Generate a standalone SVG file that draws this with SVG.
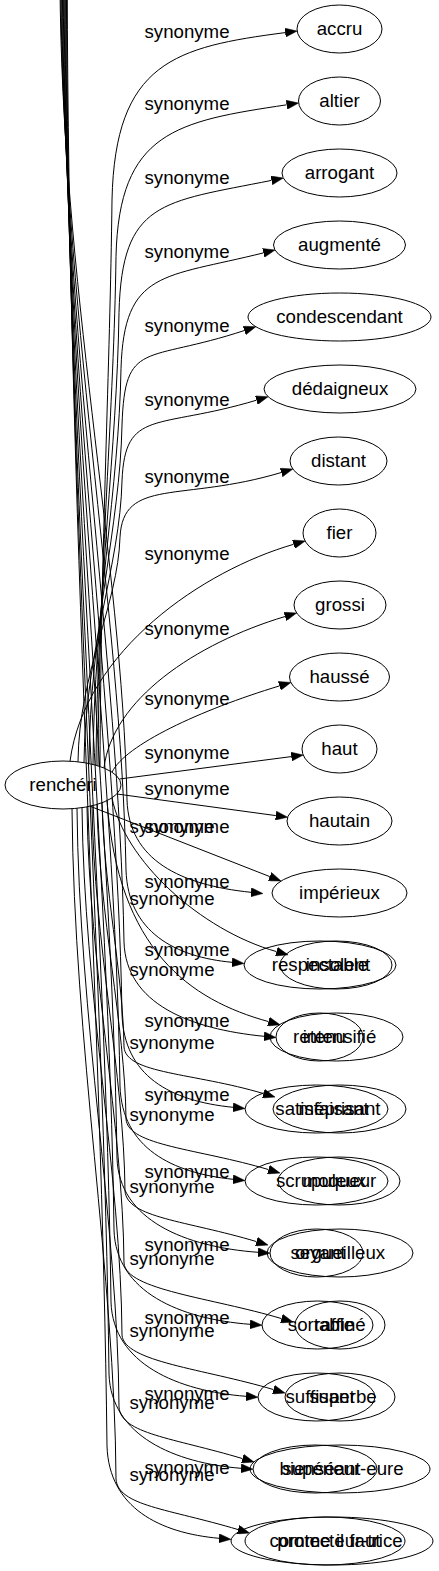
<svg xmlns="http://www.w3.org/2000/svg" width="439" height="1571" viewBox="0 0 439 1571">
<defs>
<style>
.n ellipse{fill:none;stroke:#000;stroke-width:1}
text{font-family:"Liberation Sans",Arial,sans-serif;font-size:18.67px;text-anchor:middle;fill:#000}
.e path{fill:none;stroke:#000;stroke-width:1;marker-end:url(#ah)}
</style>
<marker id="ah" markerUnits="userSpaceOnUse" markerWidth="12" markerHeight="9" refX="0" refY="4.5" orient="auto" viewBox="0 0 12 9"><path d="M0,0 L12,4.5 L0,9 z" fill="#000" stroke="#000" stroke-width="0.5"/></marker>
</defs>
<rect width="439" height="1571" fill="#fff"/>
<g id="connectors">
<g class="e" id="e_accru"><path d="M100,766.5 C101,540 110,370 112,200 C115,62 175.2,46.9 285.2,32.6"/><text x="187" y="38">synonyme</text></g>
<g class="e" id="e_altier"><path d="M98,765.9 C99,562.1 114,409.3 116,256.5 C119,131.4 176.7,121.3 286.7,104.8"/><text x="187" y="110">synonyme</text></g>
<g class="e" id="e_arrogant"><path d="M96,765.3 C97,584.2 117,448.4 119,312.6 C122,200.5 161.5,202.4 271.5,180.4"/><text x="187" y="184">synonyme</text></g>
<g class="e" id="e_augmente"><path d="M93,764.5 C94,606.2 119,487.5 121,368.8 C124,269.6 163.4,277.9 263.4,252.9"/><text x="187" y="258">synonyme</text></g>
<g class="e" id="e_condescendant"><path d="M89,763.5 C90,628.1 120,526.6 122,425 C125,338.7 144.4,363.5 244.4,330.5"/><text x="187" y="332">synonyme</text></g>
<g class="e" id="e_dedaigneux"><path d="M84,762.6 C85,650 120,565.5 122,481 C125,407.8 156.5,430.2 256.5,400.2"/><text x="187" y="406">synonyme</text></g>
<g class="e" id="e_distant"><path d="M78,761.8 C79,672 118,604.7 120,537.3 C123,477 181.3,502.5 281.3,472.5"/><text x="187" y="483">synonyme</text></g>
<g class="e" id="e_fier"><path d="M70,761.2 C85,650 203.6,570.3 293.6,544.3"/><text x="187" y="560">synonyme</text></g>
<g class="e" id="e_grossi"><path d="M104,768 C112,700 195,643.5 285.1,616.5"/><text x="187" y="635">synonyme</text></g>
<g class="e" id="e_hausse"><path d="M112,772.2 C125,745 200,710 279.5,685.9"/><text x="187" y="705">synonyme</text></g>
<g class="e" id="e_haut"><path d="M119.5,779 L291.3,756.6"/><text x="187" y="759">synonyme</text></g>
<g class="e" id="e_hautain"><path d="M117,794 L275.8,815.6"/><text x="187" y="795">synonyme</text></g>
<g class="e" id="e_imperieux"><path d="M90,806.2 L269.8,876.6"/><text x="187" y="833">synonyme</text></g>
<g class="e" id="e_insolent"><path d="M112,797.8 C124,860 200,930 276.5,951.6"/><text x="172" y="905">synonyme</text></g>
<g class="e" id="e_intensifie"><path d="M107,800.6 C118,950 190,1000 268.5,1021.6"/><text x="172" y="976">synonyme</text></g>
<g class="e" id="e_meprisant"><path d="M102,802.8 C104,888.3 123,973.7 124,1047 C126,1074 193.5,1072.6 263.5,1093.6"/><text x="172" y="1049">synonyme</text></g>
<g class="e" id="e_moqueur"><path d="M97,804.4 C99,914.5 125,1024.6 126,1119 C128,1146 198.5,1148.6 268.5,1169.6"/><text x="172" y="1121">synonyme</text></g>
<g class="e" id="e_orgueilleux"><path d="M92,805.8 C94,940.6 124,1075.4 125,1191 C127,1218 186.5,1220.6 256.5,1241.6"/><text x="172" y="1193">synonyme</text></g>
<g class="e" id="e_raffine"><path d="M87,806.8 C89,966.5 123,1126.1 124,1263 C126,1290 211.5,1297.6 281.5,1318.6"/><text x="172" y="1265">synonyme</text></g>
<g class="e" id="e_superbe"><path d="M82,807.7 C84,992.3 121,1176.8 122,1335 C124,1362 203.5,1368.6 273.5,1389.6"/><text x="172" y="1337">synonyme</text></g>
<g class="e" id="e_superieur"><path d="M77,808.3 C79,1017.8 118,1227.4 119,1407 C121,1434 172.5,1437.6 242.5,1458.6"/><text x="172" y="1409">synonyme</text></g>
<g class="e" id="e_commeilfaut"><path d="M72,808.7 C74,1043.3 115,1277.9 116,1479 C118,1506 168.1,1508.6 238.1,1529.6"/><text x="172" y="1481">synonyme</text></g>
<g class="e" id="e2_imperieux"><path d="M60,-20 C61,280 122,560 127,800 C129,860 180,885 251,892.3"/><text x="187" y="888">synonyme</text></g>
<g class="e" id="e2_respectable"><path d="M60.8,-20 C61.8,304.5 121,609 126,870 C128,932 175,957 232,962.3"/><text x="187" y="956">synonyme</text></g>
<g class="e" id="e2_retenu"><path d="M61.6,-20 C62.6,329.7 119,659.4 124,942 C126,1004 190,1029 264,1036.3"/><text x="187" y="1027">synonyme</text></g>
<g class="e" id="e2_satisfaisant"><path d="M62.4,-20 C63.4,354.9 117,709.8 122,1014 C124,1076 170,1101 233,1107.3"/><text x="187" y="1101">synonyme</text></g>
<g class="e" id="e2_scrupuleux"><path d="M63.2,-20 C64.2,380.1 115,760.2 120,1086 C122,1148 172,1173 233,1179.3"/><text x="187" y="1178">synonyme</text></g>
<g class="e" id="e2_seyant"><path d="M64,-20 C65,405.3 112,810.6 117,1158 C119,1220 185,1247 258,1252.3"/><text x="187" y="1251">synonyme</text></g>
<g class="e" id="e2_sortable"><path d="M64.8,-20 C65.8,430.5 109,861 114,1230 C116,1292 180,1319 250,1324.3"/><text x="187" y="1324">synonyme</text></g>
<g class="e" id="e2_suffisant"><path d="M65.6,-20 C66.6,455.7 106,911.4 111,1302 C113,1364 178,1391 246,1396.3"/><text x="187" y="1400">synonyme</text></g>
<g class="e" id="e2_bienseant"><path d="M66.4,-20 C67.4,480.9 104,961.8 109,1374 C111,1436 175,1463 241,1468.3"/><text x="187" y="1474">synonyme</text></g>
<g class="e" id="e2_protecteur"><path d="M67.2,-20 C68.2,506.1 102,1012.2 107,1446 C109,1508 160,1533 219,1538.3"/><text x="172" y="833">synonyme</text></g>
</g>
<g id="node_rencheri" class="n"><ellipse cx="63" cy="785" rx="58" ry="24"/><text x="63" y="790.6">renchéri</text></g>
<g id="node_accru" class="n"><ellipse cx="339.5" cy="29" rx="42.5" ry="24"/><text x="339.5" y="34.6">accru</text></g>
<g id="node_altier" class="n"><ellipse cx="339.5" cy="101" rx="41" ry="24"/><text x="339.5" y="106.6">altier</text></g>
<g id="node_arrogant" class="n"><ellipse cx="339.5" cy="173" rx="57.5" ry="24"/><text x="339.5" y="178.6">arrogant</text></g>
<g id="node_augmente" class="n"><ellipse cx="339.5" cy="245" rx="66" ry="24"/><text x="339.5" y="250.6">augmenté</text></g>
<g id="node_condescendant" class="n"><ellipse cx="339.5" cy="317" rx="91.5" ry="24"/><text x="339.5" y="322.6">condescendant</text></g>
<g id="node_dedaigneux" class="n"><ellipse cx="340" cy="389" rx="76" ry="24"/><text x="340" y="394.6">dédaigneux</text></g>
<g id="node_distant" class="n"><ellipse cx="338.5" cy="461" rx="48.5" ry="24"/><text x="338.5" y="466.6">distant</text></g>
<g id="node_fier" class="n"><ellipse cx="339.5" cy="533" rx="36.5" ry="24"/><text x="339.5" y="538.6">fier</text></g>
<g id="node_grossi" class="n"><ellipse cx="340" cy="605" rx="46" ry="24"/><text x="340" y="610.6">grossi</text></g>
<g id="node_hausse" class="n"><ellipse cx="339.5" cy="677" rx="50" ry="24"/><text x="339.5" y="682.6">haussé</text></g>
<g id="node_haut" class="n"><ellipse cx="339.5" cy="749" rx="37.5" ry="24"/><text x="339.5" y="754.6">haut</text></g>
<g id="node_hautain" class="n"><ellipse cx="339.5" cy="821" rx="52.5" ry="24"/><text x="339.5" y="826.6">hautain</text></g>
<g id="node_imperieux" class="n"><ellipse cx="339.5" cy="893" rx="67.5" ry="24"/><text x="339.5" y="898.6">impérieux</text></g>
<g id="node_insolent" class="n"><ellipse cx="336" cy="965" rx="56" ry="24"/><text x="338" y="970.6">insolent</text></g>
<g id="node_intensifie" class="n"><ellipse cx="336.5" cy="1037" rx="66.5" ry="24"/><text x="339.5" y="1042.6">intensifié</text></g>
<g id="node_meprisant" class="n"><ellipse cx="339.5" cy="1109" rx="66.5" ry="24"/><text x="339.5" y="1114.6">méprisant</text></g>
<g id="node_moqueur" class="n"><ellipse cx="339" cy="1181" rx="61" ry="24"/><text x="339.5" y="1186.6">moqueur</text></g>
<g id="node_orgueilleux" class="n"><ellipse cx="340" cy="1253" rx="73" ry="24"/><text x="340" y="1258.6">orgueilleux</text></g>
<g id="node_raffine" class="n"><ellipse cx="340" cy="1325" rx="45" ry="24"/><text x="340" y="1330.6">raffiné</text></g>
<g id="node_superbe" class="n"><ellipse cx="340" cy="1397" rx="55" ry="24"/><text x="343" y="1402.6">superbe</text></g>
<g id="node_superieur" class="n"><ellipse cx="340" cy="1469" rx="90" ry="24"/><text x="343" y="1474.6">supérieur-eure</text></g>
<g id="node_protecteur" class="n"><ellipse cx="332" cy="1541" rx="101" ry="24"/><text x="340" y="1546.6">protecteur-trice</text></g>
<g id="node_respectable" class="n"><ellipse cx="320" cy="965" rx="76" ry="24"/><text x="320" y="970.6">respectable</text></g>
<g id="node_retenu" class="n"><ellipse cx="319.5" cy="1037" rx="43.5" ry="24"/><text x="319.5" y="1042.6">retenu</text></g>
<g id="node_satisfaisant" class="n"><ellipse cx="316.5" cy="1109" rx="71.5" ry="24"/><text x="322" y="1114.6">satisfaisant</text></g>
<g id="node_scrupuleux" class="n"><ellipse cx="316.5" cy="1181" rx="71.5" ry="24"/><text x="321" y="1186.6">scrupuleux</text></g>
<g id="node_seyant" class="n"><ellipse cx="316.5" cy="1253" rx="46.5" ry="24"/><text x="318" y="1258.6">seyant</text></g>
<g id="node_sortable" class="n"><ellipse cx="317.5" cy="1325" rx="55.5" ry="24"/><text x="321" y="1330.6">sortable</text></g>
<g id="node_suffisant" class="n"><ellipse cx="316.5" cy="1397" rx="58.5" ry="24"/><text x="320" y="1402.6">suffisant</text></g>
<g id="node_bienseant" class="n"><ellipse cx="315" cy="1469" rx="62" ry="24"/><text x="320" y="1474.6">bienséant</text></g>
<g id="node_commeilfaut" class="n"><ellipse cx="325" cy="1541" rx="80" ry="24"/><text x="325" y="1546.6">comme il faut</text></g>
</svg>
